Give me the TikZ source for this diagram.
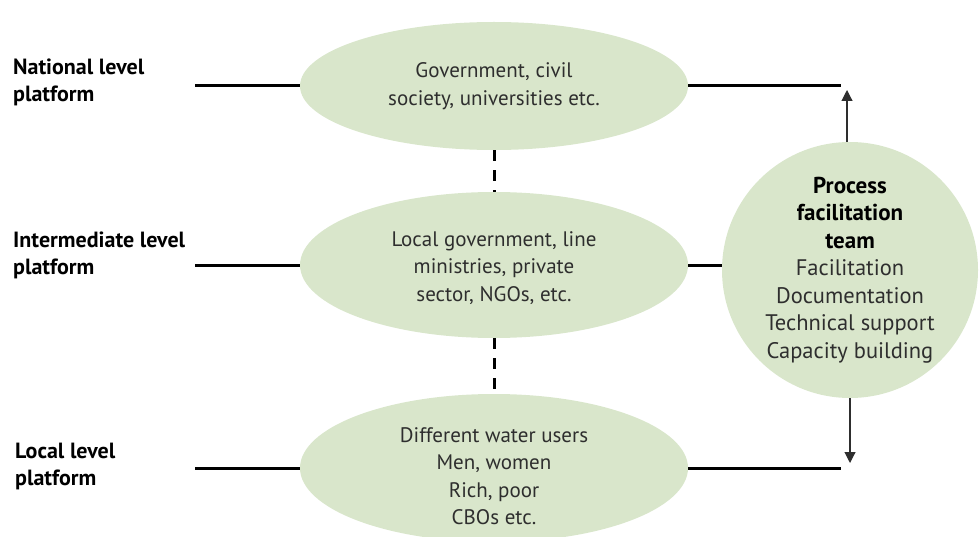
\documentclass[tikz,border=0pt]{standalone}
\usepackage{fontspec}
\setmainfont{PT Sans}
\usetikzlibrary{shapes.geometric,arrows.meta}
\definecolor{leaf}{HTML}{D9E6CB}
\definecolor{ink}{HTML}{2E2E2E}
\tikzset{
  blob/.style={ellipse, fill=leaf, draw=none, minimum width=388pt, minimum height=128pt, inner sep=0pt},
  blobtext/.style={align=center, text=ink, inner sep=0pt, font=\fontsize{21}{27.5}\selectfont},
  levellabel/.style={anchor=north west, align=left, inner sep=0pt, font=\bfseries\fontsize{22}{27}\selectfont},
  tie/.style={line width=3pt},
  dashtie/.style={line width=3pt, dash pattern=on 11pt off 9pt},
  feed/.style={line width=1.1pt, draw=ink, -{Triangle[length=11pt,width=11pt]}},
}
\begin{document}
\begin{tikzpicture}[x=1pt,y=-1pt]
\useasboundingbox (0,0) rectangle (979,537);
\node[blob] (e1) at (494,86) {};
\node[blob, minimum height=146pt] (e2) at (494,265) {};
\node[blob, minimum height=148pt] (e3) at (494,468) {};
\node[blobtext] (t1) at (494,86) {Government, civil\\society, universities etc.};
\node[blobtext] (t2) at (494,268) {Local government, line\\ministries, private\\sector, NGOs, etc.};
\node[blobtext] (t3) at (494,476) {Different water users\\Men, women\\Rich, poor\\CBOs etc.};
\node[circle, fill=leaf, minimum size=256pt, inner sep=0pt, align=center, font=\fontsize{22.5}{27.5}\selectfont] (pft) at (850,270)
  {{\fontsize{23}{27.5}\selectfont\bfseries Process}\\{\fontsize{23}{27.5}\selectfont\bfseries facilitation}\\{\fontsize{23}{27.5}\selectfont\bfseries team}\\{\color{ink}Facilitation}\\{\color{ink}Documentation}\\{\color{ink}Technical support}\\{\color{ink}Capacity building}};
\node[levellabel] (l1) at (13,58.5) {National level\\platform};
\node[levellabel] (l2) at (13,231.5) {Intermediate level\\platform};
\node[levellabel] (l3) at (15,442.5) {Local level\\platform};
\coordinate (a1) at (195,86);
\coordinate (a2) at (195,265);
\coordinate (a3) at (195,468);
\coordinate (b1) at (841,86);
\coordinate (b3) at (841,468);
\coordinate (uptip) at (847,90);
\coordinate (downtip) at (850,463);
\draw[tie] (a1) -- (e1.west);
\draw[tie] (a2) -- (e2.west);
\draw[tie] (a3) -- (e3.west);
\draw[tie] (e1.east) -- (b1);
\draw[tie] (e2.east) -- (e2.east -| pft.west);
\draw[tie] (e3.east) -- (b3);
\draw[dashtie] (e1.south) -- (e2.north);
\draw[dashtie] (e2.south) -- (e3.north);
\draw[feed] (pft.north -| uptip) -- (uptip);
\draw[feed] (pft.south -| downtip) -- (downtip);
\end{tikzpicture}
\end{document}
